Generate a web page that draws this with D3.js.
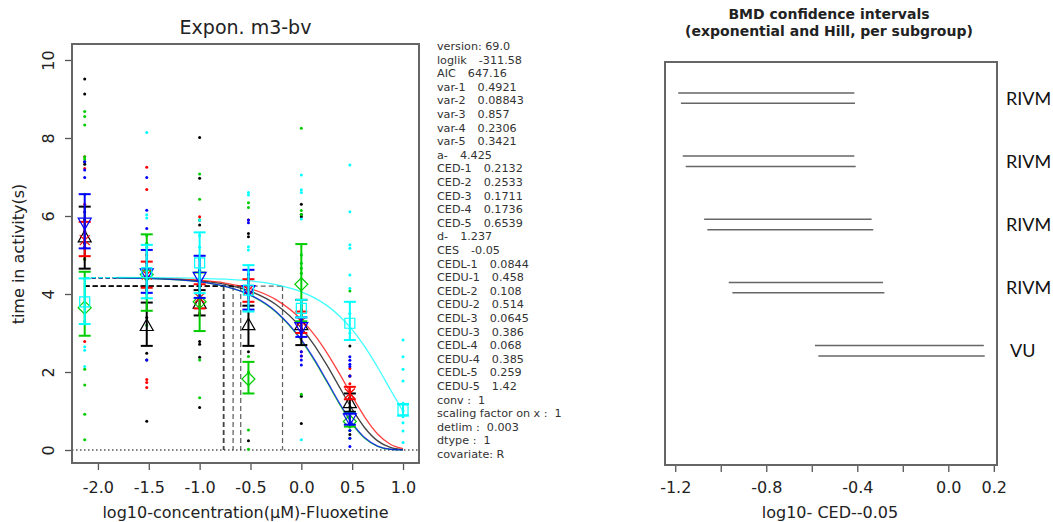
<!DOCTYPE html>
<html>
<head>
<meta charset="utf-8">
<script src="https://cdn.jsdelivr.net/npm/d3@7"></script>
<style>
    body { margin: 0; background: #fff; }
    text { font-family: "DejaVu Sans", sans-serif; fill: #222; }
    .info { font-size: 11.2px; fill: #333; }
</style>
</head>
<body>
<svg id="chart" width="1053" height="522"></svg>
<script>
// dose columns (log10 scale), the first one is the control group
var doseX = [-2.13, -1.52, -1.0, -0.52, 0.0, 0.477, 1.0];
var xTicks = [-2.0, -1.5, -1.0, -0.5, 0.0, 0.5, 1.0];
var yTicks = [0, 2, 4, 6, 8, 10];
var groupColors = ['#000000', '#ff0000', '#00cd00', '#0000ff', '#00ffff'];
var groupSymbols = ['triangle', 'cross', 'diamond', 'triangleDown', 'square'];

// single observations per dose column
var obs1 = [
    [9.51, 9.13, 7.39, 7.33, 5.9, 5.3, 4.9],
    [3.9, 3.4, 2.48, 2.31, 0.74, 4.1],
    [8.01, 6.97, 5.9, 5.77, 4.2, 2.78, 2.71, 2.38, 1.09],
    [5.55, 5.47, 4.4, 3.6, 2.52, 0.24],
    [6.3, 6.04, 5.98, 3.5, 3.0, 1.38, 0.68],
    [2.67, 1.9, 1.3, 1.1, 0.4],
    []
];
var obs2 = [
    [7.52, 7.22, 6.3, 5.6, 4.9, 2.78],
    [7.25, 6.68, 5.0, 4.6, 1.81, 1.73, 1.6],
    [5.98, 4.3, 3.5],
    [5.9, 4.4, 3.9],
    [3.6, 3.1, 2.52, 2.41],
    [2.09, 1.9, 1.7, 1.5, 1.3],
    []
];
var obs3 = [
    [8.68, 8.55, 8.33, 7.52, 7.46, 6.56, 4.9, 2.07, 1.67, 0.92, 0.26],
    [5.5, 5.3, 4.0, 3.2],
    [7.08, 6.43, 5.9, 4.6, 2.31, 1.34],
    [6.34, 6.22, 2.4, 2.0, 0.51, 0.02],
    [8.25, 6.14, 6.04, 5.0, 4.79, 4.66, 4.53, 1.43],
    [4.08, 1.0, 0.6, 0.5, 0.3],
    []
];
var obs4 = [
    [7.39, 7.18, 6.99, 6.1, 5.6, 5.2],
    [6.99, 6.15, 5.68, 4.8, 4.2, 2.31],
    [4.98, 4.6, 4.2],
    [5.9, 5.83, 4.5, 3.7],
    [3.0, 2.52, 2.41, 2.31, 2.18],
    [2.39, 2.3, 2.2, 2.14, 1.9, 0.9, 0.5, 0.3, 0.09],
    []
];
var obs5 = [
    [4.4, 3.3, 2.65, 2.56, 2.14],
    [8.14, 6.03, 5.95, 5.2, 4.6, 4.0],
    [5.9, 5.5, 5.2, 4.9, 4.2],
    [6.6, 6.54, 5.21, 5.13, 4.6, 3.6],
    [7.05, 6.67, 6.6, 5.92, 3.7, 0.26],
    [7.31, 6.11, 5.26, 5.17, 4.49, 4.14, 3.5, 3.0],
    [2.82, 2.39, 2.07, 1.77, 1.2, 1.0, 0.85, 0.7, 0.49, 0.19]
];

// group means with confidence limits
var mean1 = [5.45, 3.18, 3.75, 3.2, 3.2, 1.2, null];
var low1 = [4.65, 2.67, 3.45, 2.67, 2.69, 0.98, null];
var high1 = [6.24, 3.78, 4.1, 3.7, 3.85, 1.45, null];
var mean2 = [5.38, 4.5, 3.9, 4.1, 3.3, 1.45, null];
var low2 = [4.97, 4.16, 3.63, 3.8, 3.0, 1.3, null];
var high2 = [5.85, 4.83, 4.25, 4.38, 3.55, 1.62, null];
var mean3 = [3.65, 4.5, 3.8, 1.82, 4.25, 0.73, null];
var low3 = [2.93, 3.57, 3.05, 1.45, 3.3, 0.6, null];
var high3 = [4.57, 5.53, 4.55, 2.26, 5.28, 0.95, null];
var mean4 = [5.83, 4.53, 4.44, 4.1, 3.15, 0.81, null];
var low4 = [5.17, 4.03, 3.9, 3.6, 2.9, 0.65, null];
var high4 = [6.56, 5.13, 4.98, 4.62, 3.4, 0.94, null];
var mean5 = [3.8, 4.55, 4.8, 4.1, 3.63, 3.25, 1.03];
var low5 = [3.23, 3.89, 4.02, 3.55, 3.4, 2.82, 0.88];
var high5 = [4.4, 5.26, 5.58, 4.74, 3.85, 3.8, 1.18];

// fitted curves, read along the x axis
var curveX = [-1.81, -1.5, -1.0, -0.75, -0.5, -0.25, 0.0, 0.125, 0.25, 0.375, 0.5, 0.625, 0.75, 0.875, 1.0];
var curve1 = [4.416, 4.404, 4.337, 4.247, 4.070, 3.732, 3.128, 2.697, 2.181, 1.612, 1.047, 0.565, 0.234, 0.067, 0.011];
var curve2 = [4.418, 4.408, 4.354, 4.281, 4.136, 3.856, 3.343, 2.966, 2.499, 1.957, 1.381, 0.839, 0.412, 0.149, 0.035];
var curve3 = [4.413, 4.397, 4.310, 4.193, 3.966, 3.539, 2.806, 2.310, 1.749, 1.176, 0.667, 0.297, 0.094, 0.018, 0.002];
var curve4 = [4.413, 4.397, 4.312, 4.197, 3.973, 3.553, 2.829, 2.336, 1.778, 1.204, 0.690, 0.312, 0.100, 0.020, 0.002];
var curve5 = [4.423, 4.420, 4.403, 4.380, 4.334, 4.241, 4.057, 3.909, 3.708, 3.438, 3.086, 2.645, 2.123, 1.551, 0.990];

var cedLog = [-0.671, -0.596, -0.767, -0.760, -0.185];
var cesLevel = 4.204;

// model summary printed next to the plot: names and values
var infoNames = ['version:', 'loglik', 'AIC', 'var-1', 'var-2', 'var-3', 'var-4', 'var-5', 'a-', 'CED-1',
    'CED-2', 'CED-3', 'CED-4', 'CED-5', 'd-', 'CES', 'CEDL-1', 'CEDU-1', 'CEDL-2', 'CEDU-2', 'CEDL-3',
    'CEDU-3', 'CEDL-4', 'CEDU-4', 'CEDL-5', 'CEDU-5', 'conv :', 'scaling factor on x :', 'detlim :',
    'dtype :', 'covariate:'];
var infoValues = ['69.0', '-311.58', '647.16', '0.4921', '0.08843', '0.857', '0.2306', '0.3421', '4.425',
    '0.2132', '0.2533', '0.1711', '0.1736', '0.6539', '1.237', '-0.05', '0.0844', '0.458', '0.108',
    '0.514', '0.0645', '0.386', '0.068', '0.385', '0.259', '1.42', '1', '1', '0.003', '1', 'R'];

// BMD intervals, two lines per subgroup
var bmdLabels = ['RIVM', 'RIVM', 'RIVM', 'RIVM', 'VU'];
var bmdLowA = [-1.187, -1.167, -1.073, -0.965, -0.586];
var bmdHighA = [-0.413, -0.413, -0.337, -0.287, 0.156];
var bmdLowB = [-1.175, -1.154, -1.059, -0.949, -0.571];
var bmdHighB = [-0.410, -0.407, -0.330, -0.281, 0.160];
var bmdTicks = [-1.2, -1.0, -0.8, -0.6, -0.4, -0.2, 0.0, 0.2];
var bmdTickLabels = ['-1.2', '', '-0.8', '', '-0.4', '', '0.0', '0.2'];

var allObs = [obs1, obs2, obs3, obs4, obs5];
var allMeans = [mean1, mean2, mean3, mean4, mean5];
var allLows = [low1, low2, low3, low4, low5];
var allHighs = [high1, high2, high3, high4, high5];
var allCurves = [curve1, curve2, curve3, curve4, curve5];

var svg = d3.select('#chart');

function symbol_path(type) {
    if (type == 'triangle') return 'M0,-7L6.5,4.5L-6.5,4.5Z';
    if (type == 'triangleDown') return 'M0,7L6.5,-4.5L-6.5,-4.5Z';
    if (type == 'diamond') return 'M0,-6.5L6.5,0L0,6.5L-6.5,0Z';
    if (type == 'square') return 'M-5,-5h10v10h-10Z';
    return 'M-5,-5L5,5M-5,5L5,-5';
}

/* ---------- left panel ---------- */
var xL = d3.scaleLinear().domain([-2.255, 1.157]).range([72, 419]);
var yL = d3.scaleLinear().domain([-0.333, 10.41]).range([463, 44]);

var gx = svg.append('g')
    .attr('transform', 'translate(0,463)')
    .call(d3.axisBottom(xL).tickValues(xTicks).tickSize(7).tickFormat(function (d) {
        return d.toFixed(1);
    }));
gx.select('.domain').remove();
gx.selectAll('line').attr('stroke', '#555').attr('stroke-width', 1.3);
gx.selectAll('text').attr('y', 29.5).attr('dy', 0)
    .style('font-family', '"DejaVu Sans", sans-serif').style('font-size', '16px').style('fill', '#222');

var gy = svg.append('g')
    .attr('transform', 'translate(72,0)')
    .call(d3.axisLeft(yL).tickValues(yTicks).tickSize(7));
gy.select('.domain').remove();
gy.selectAll('line').attr('stroke', '#555').attr('stroke-width', 1.3);
gy.selectAll('text')
    .attr('transform', 'rotate(-90)')
    .attr('x', 0).attr('y', -18.5).attr('dy', 0)
    .attr('text-anchor', 'middle')
    .style('font-family', '"DejaVu Sans", sans-serif').style('font-size', '16px').style('fill', '#222');

// zero line
svg.append('line')
    .attr('x1', xL.range()[0]).attr('x2', xL.range()[1])
    .attr('y1', yL(0)).attr('y2', yL(0))
    .attr('stroke', '#000').attr('stroke-width', 1.2).attr('stroke-dasharray', '1.5,2.5');

// observations
var dots = [];
allObs.forEach(function (g, gi) {
    g.forEach(function (col, di) {
        col.forEach(function (v) {
            dots.push({g: gi, x: doseX[di], y: v});
        });
    });
});
svg.append('g').selectAll('circle')
    .data(dots)
    .enter().append('circle')
    .attr('cx', function (d) { return xL(d.x); })
    .attr('cy', function (d) { return yL(d.y); })
    .attr('r', 1.5)
    .attr('fill', function (d) { return groupColors[d.g]; });

// CES level and CED markers
var cesG = svg.append('g')
    .attr('stroke', '#000').attr('stroke-opacity', 0.6)
    .attr('stroke-width', 1.3).attr('stroke-dasharray', '5,3').attr('fill', 'none');
cedLog.forEach(function (c) {
    cesG.append('line')
        .attr('x1', xL(doseX[0])).attr('x2', xL(c))
        .attr('y1', yL(cesLevel)).attr('y2', yL(cesLevel));
    cesG.append('line')
        .attr('x1', xL(c)).attr('x2', xL(c))
        .attr('y1', yL(cesLevel)).attr('y2', yL(0));
});

// curves
var line = d3.line()
    .x(function (d) { return xL(d[0]); })
    .y(function (d) { return yL(d[1]); })
    .curve(d3.curveMonotoneX);

allCurves.forEach(function (c, gi) {
    svg.append('line')
        .attr('x1', xL(doseX[0])).attr('x2', xL(curveX[0]))
        .attr('y1', yL(c[0])).attr('y2', yL(c[0]))
        .attr('stroke', groupColors[gi]).attr('stroke-width', 1.2)
        .attr('stroke-dasharray', '4,3');
    svg.append('path')
        .datum(curveX.map(function (x, i) { return [x, c[i]]; }))
        .attr('d', line)
        .attr('fill', 'none')
        .attr('stroke', groupColors[gi])
        .attr('stroke-opacity', 0.75)
        .attr('stroke-width', 1.3);
});

// means with confidence bars
allMeans.forEach(function (m, gi) {
    var g = svg.append('g')
        .attr('stroke', groupColors[gi])
        .attr('fill', 'none');
    m.forEach(function (v, di) {
        if (v === null) return;
        var cx = xL(doseX[di]);
        var lo = yL(allLows[gi][di]), hi = yL(allHighs[gi][di]);
        g.append('line').attr('x1', cx).attr('x2', cx).attr('y1', lo).attr('y2', hi).attr('stroke-width', 2);
        g.append('line').attr('x1', cx - 6).attr('x2', cx + 6).attr('y1', lo).attr('y2', lo).attr('stroke-width', 2);
        g.append('line').attr('x1', cx - 6).attr('x2', cx + 6).attr('y1', hi).attr('y2', hi).attr('stroke-width', 2);
        g.append('path')
            .attr('d', symbol_path(groupSymbols[gi]))
            .attr('transform', 'translate(' + cx + ',' + yL(v) + ')')
            .attr('stroke-width', 1.2);
    });
});

svg.append('rect')
    .attr('x', 72).attr('y', 44).attr('width', 347).attr('height', 419)
    .attr('fill', 'none').attr('stroke', '#666').attr('stroke-width', 2);

svg.append('text')
    .attr('x', 245.5).attr('y', 33.5)
    .attr('text-anchor', 'middle')
    .style('font-size', '19px')
    .text('Expon. m3-bv');

svg.append('text')
    .attr('x', 245.5).attr('y', 518)
    .attr('text-anchor', 'middle')
    .style('font-size', '16px')
    .text('log10-concentration(\u00b5M)-Fluoxetine');

svg.append('text')
    .attr('transform', 'translate(24,254) rotate(-90)')
    .attr('text-anchor', 'middle')
    .style('font-size', '16px')
    .text('time in activity(s)');

var info = svg.append('g').selectAll('text')
    .data(infoNames)
    .enter().append('text')
    .attr('class', 'info')
    .attr('x', 437)
    .attr('y', function (d, i) { return 50 + i * 13.6; });
info.append('tspan').text(function (d) { return d; });
info.append('tspan')
    .attr('dx', function (d, i) { return i == 0 || i == infoNames.length - 1 ? 3.5 : (d.slice(-1) == ':' ? 7 : 12); })
    .text(function (d, i) { return infoValues[i]; });

/* ---------- right panel ---------- */
var xR = d3.scaleLinear().domain([-1.245, 0.214]).range([665, 997]);
var yR = d3.scaleLinear().domain([0.51, 6.89]).range([62, 465]);

var gxr = svg.append('g')
    .attr('transform', 'translate(0,465)')
    .call(d3.axisBottom(xR).tickValues(bmdTicks).tickSize(7).tickFormat(function (d, i) {
        return bmdTickLabels[i];
    }));
gxr.select('.domain').remove();
gxr.selectAll('line').attr('stroke', '#555').attr('stroke-width', 1.3);
gxr.selectAll('text').attr('y', 27.5).attr('dy', 0)
    .style('font-family', '"DejaVu Sans", sans-serif').style('font-size', '16px').style('fill', '#222');

var rows = bmdLabels.map(function (d, i) { return i + 1; });
svg.append('g').selectAll('line.a')
    .data(rows)
    .enter().append('line')
    .attr('x1', function (d, i) { return xR(bmdLowA[i]); })
    .attr('x2', function (d, i) { return xR(bmdHighA[i]); })
    .attr('y1', function (d) { return yR(d); })
    .attr('y2', function (d) { return yR(d); })
    .attr('stroke', '#666').attr('stroke-width', 1.5);
svg.append('g').selectAll('line.b')
    .data(rows)
    .enter().append('line')
    .attr('x1', function (d, i) { return xR(bmdLowB[i]); })
    .attr('x2', function (d, i) { return xR(bmdHighB[i]); })
    .attr('y1', function (d) { return yR(d + 0.165); })
    .attr('y2', function (d) { return yR(d + 0.165); })
    .attr('stroke', '#666').attr('stroke-width', 1.5);

svg.append('rect')
    .attr('x', 665).attr('y', 62).attr('width', 332).attr('height', 403)
    .attr('fill', 'none').attr('stroke', '#666').attr('stroke-width', 2);

svg.append('g').selectAll('text')
    .data(rows)
    .enter().append('text')
    .attr('x', function (d, i) { return bmdLabels[i] == 'VU' ? 1010 : 1006; })
    .attr('y', function (d) { return yR(d + 0.08) + 6.5; })
    .style('font-family', 'Lato, "Open Sans", sans-serif')
    .style('font-size', '18px')
    .style('fill', '#111')
    .text(function (d, i) { return bmdLabels[i]; });

svg.append('text')
    .attr('x', 829).attr('y', 19)
    .attr('text-anchor', 'middle')
    .style('font-size', '14px').style('font-weight', 'bold')
    .text('BMD confidence intervals');
svg.append('text')
    .attr('x', 829).attr('y', 36)
    .attr('text-anchor', 'middle')
    .style('font-size', '14px').style('font-weight', 'bold')
    .text('(exponential and Hill, per subgroup)');

svg.append('text')
    .attr('x', 830).attr('y', 518)
    .attr('text-anchor', 'middle')
    .style('font-size', '16px')
    .text('log10- CED--0.05');
</script>
</body>
</html>
